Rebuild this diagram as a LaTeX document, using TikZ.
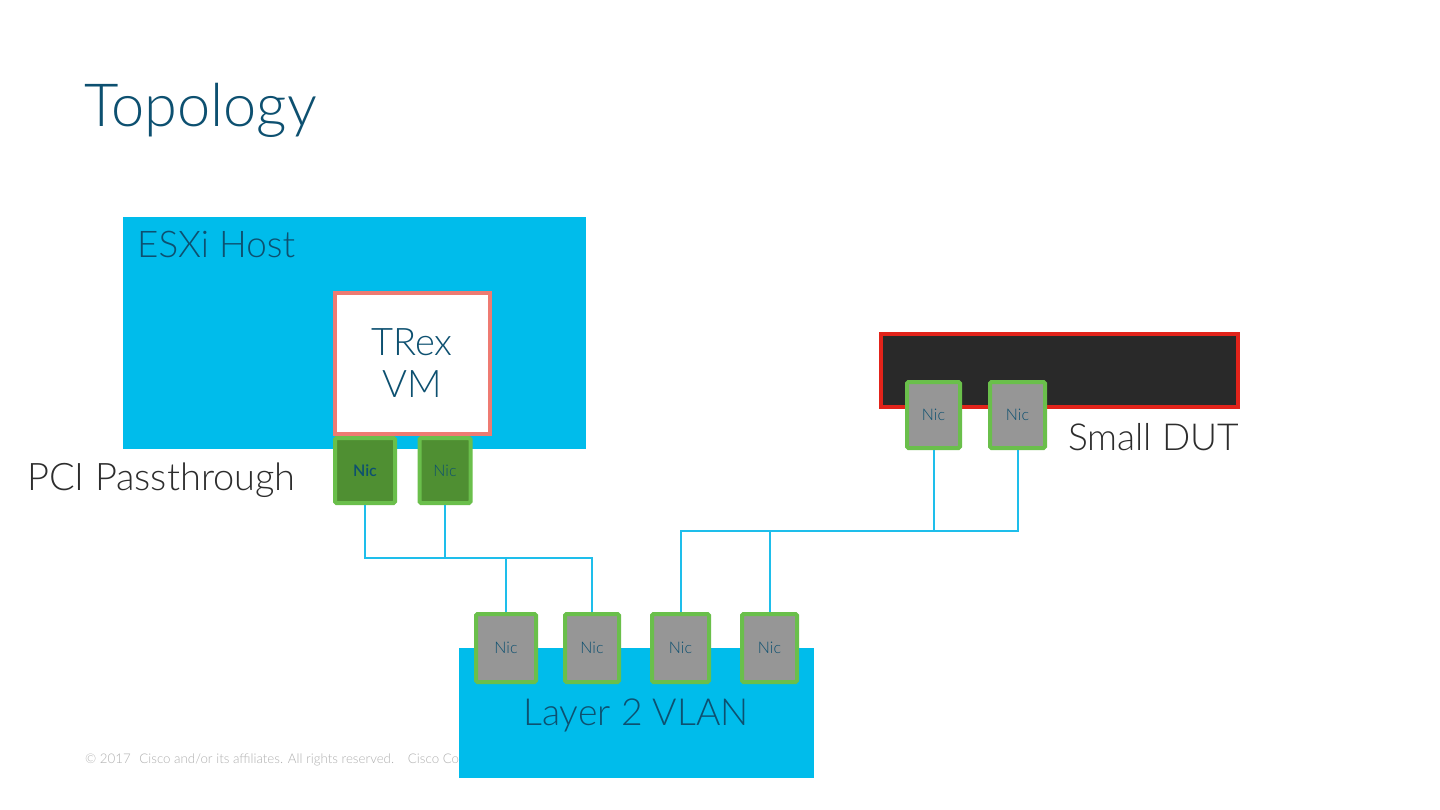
\documentclass[tikz,border=0pt]{standalone}
\usepackage{fontspec}
\setmainfont{Lato Light}
\definecolor{ciscoblue}{RGB}{0,188,235}
\definecolor{tealtext}{RGB}{13,80,112}
\definecolor{darktext}{RGB}{45,45,45}
\definecolor{nicborder}{RGB}{106,191,75}
\definecolor{nicgreen}{RGB}{79,143,50}
\definecolor{nicgray}{RGB}{150,150,150}
\definecolor{vmborder}{RGB}{238,123,114}
\definecolor{dutred}{RGB}{226,35,26}
\definecolor{dutfill}{RGB}{41,41,41}
\definecolor{footgray}{RGB}{176,176,176}
\definecolor{wire}{RGB}{30,190,235}
\begin{document}
\begin{tikzpicture}[x=1pt,y=-1pt,
  nicbox/.style={draw=nicborder,line width=4pt,rounded corners=1.5pt,inner sep=0pt,
    text=tealtext,font=\fontsize{16}{18}\selectfont},
  greennic/.style={nicbox,fill=nicgreen},
  graynic/.style={nicbox,fill=nicgray},
  bluebox/.style={fill=ciscoblue,draw=none},
  wireline/.style={draw=wire,line width=2pt},
  bigtext/.style={inner sep=0pt,font=\fontsize{38}{42}\selectfont}
]
\useasboundingbox (0,0) rectangle (1440,810);
\fill[white] (0,0) rectangle (1440,810);

% title
\node[anchor=base west,inner sep=0pt,text=tealtext,font=\fontsize{59.5}{66}\selectfont] (title) at (84,127) {Topology};

% ESXi host
\node[bluebox,minimum width=463pt,minimum height=232pt,inner sep=0pt] (esxi) at (354.5,333) {};
\node[bigtext,anchor=base west,text=tealtext,font=\fontsize{36.8}{40}\selectfont] (esxilabel) at (137,258) {ESXi Host};

% TRex VM
\node[draw=vmborder,fill=white,line width=4pt,minimum width=155pt,minimum height=141pt,inner sep=0pt] (vm) at (412.5,363.5) {};
\node[bigtext,anchor=base,text=tealtext] (vml1) at (412,355) {TRex};
\node[bigtext,anchor=base,text=tealtext] (vml2) at (412,397) {VM};

% TRex NICs
\node[greennic,minimum width=60pt,minimum height=65pt] (t1) at (365,470.5) {\bfseries Nic};
\node[greennic,minimum width=51pt,minimum height=65pt] (t2) at (445,470.5) {Nic};

\node[bigtext,anchor=base west,text=darktext] (pci) at (27,490) {PCI Passthrough};

% DUT
\node[draw=dutred,fill=dutfill,line width=4pt,minimum width=357pt,minimum height=73pt,inner sep=0pt] (dut) at (1059.5,370.5) {};
\node[graynic,minimum width=53pt,minimum height=66pt] (d1) at (933.5,415) {Nic};
\node[graynic,minimum width=55pt,minimum height=66pt] (d2) at (1017.5,415) {Nic};
\node[bigtext,anchor=base west,text=darktext,font=\fontsize{37.2}{40}\selectfont] (dutlabel) at (1068,450) {Small DUT};

% footer
\node[anchor=base west,inner sep=0pt,text=footgray,font=\fontsize{13.3}{15}\selectfont] (footer) at (85,763) {\textcopyright{} 2017\hspace{5pt} Cisco and/or its affiliates. All rights reserved.\hspace{9pt} Cisco Co};

% VLAN
\node[bluebox,minimum width=355pt,minimum height=130pt,inner sep=0pt] (vlan) at (636.5,713) {};
\node[bigtext,anchor=base,text=tealtext,font=\fontsize{37.3}{40}\selectfont] (vlanlabel) at (636,725) {Layer 2 VLAN};
\node[graynic,minimum width=60pt,minimum height=68pt] (v1) at (506,648) {Nic};
\node[graynic,minimum width=54pt,minimum height=68pt] (v2) at (592,648) {Nic};
\node[graynic,minimum width=57pt,minimum height=68pt] (v3) at (680.5,648) {Nic};
\node[graynic,minimum width=55pt,minimum height=68pt] (v4) at (769.5,648) {Nic};

% wires
\coordinate (busA) at (0,558);
\coordinate (busB) at (0,531);
\draw[wireline] (t1.south) |- (busA -| v2.north) -- (v2.north);
\draw[wireline] (t2.south) -- (t2.south |- busA);
\draw[wireline] (v1.north) -- (v1.north |- busA);
\draw[wireline] (v3.north) |- (busB -| d2.south) -- (d2.south);
\draw[wireline] (d1.south) -- (d1.south |- busB);
\draw[wireline] (v4.north) -- (v4.north |- busB);
\end{tikzpicture}
\end{document}
